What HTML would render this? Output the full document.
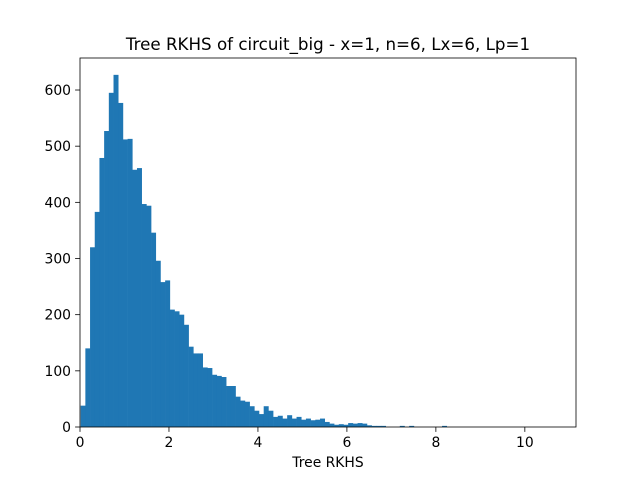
<!DOCTYPE html>
<html><head><meta charset="utf-8"><style>
body{margin:0;background:#fff;font-family:"Liberation Sans","DejaVu Sans",sans-serif}
svg text{font-family:"DejaVu Sans","Liberation Sans",sans-serif}
</style></head><body>
<svg id="c" width="640" height="480"></svg>
<script>
const counts=[38,140,320,383,479,527,595,627,577,512,513,458,461,397,394,346,296,258,261,209,206,200,182,143,131,131,106,105,93,91,89,73,73,54,47,45,37,29,23,37,29,18,20,15,21,15,18,13,15,12,13,15,9,6,4,5,4,7,6,7,6,3,2,2,2,0,0,0,2,0,2,0,0,0,0,0,0,2,0,0,0,0,0,0,0,0,0,0,0,0,0,0,0,0,0,0,0,0,0,0];
const binStart=0.015, binWidth=0.1055;
const xTicks=[0,2,4,6,8,10];
const yTicks=[0,100,200,300,400,500,600];
const L=80,R=576,T=58,B=427,xMax=11.15,yMax=657;
const sx=v=>L+v/xMax*(R-L), sy=v=>B-v/yMax*(B-T);
const svg=document.getElementById('c'),NS='http://www.w3.org/2000/svg';
function mk(t,a,p){const e=document.createElementNS(NS,t);for(const k in a)e.setAttribute(k,a[k]);(p||svg).appendChild(e);return e;}
const bars=mk('g',{});


counts.forEach((c,i)=>{if(!c)return;const x0=sx(binStart+i*binWidth),x1=sx(binStart+(i+1)*binWidth);
const r=mk('rect',{x:x0,y:sy(c),width:x1-x0+0.3,height:B-sy(c),fill:'#1f77b4'},bars);

});
const fr=mk('rect',{x:L,y:T,width:R-L,height:B-T,fill:'none',stroke:'#000','stroke-width':0.8});


xTicks.forEach(v=>{const x=sx(v);mk('line',{x1:x,x2:x,y1:B,y2:B+4.9,stroke:'#000','stroke-width':0.8});
const t=mk('text',{x:x,y:B+20,'text-anchor':'middle','font-size':13.9});t.textContent=v;

});
yTicks.forEach(v=>{const y=sy(v);mk('line',{x1:L-4.9,x2:L,y1:y,y2:y,stroke:'#000','stroke-width':0.8});
const t=mk('text',{x:L-9,y:y+5,'text-anchor':'end','font-size':13.9});t.textContent=v;

});
const xl=mk('text',{x:(L+R)/2,y:467,'text-anchor':'middle','font-size':13.9});xl.textContent='Tree RKHS';


const ti=mk('text',{x:(L+R)/2,y:50,'text-anchor':'middle','font-size':16.7});ti.textContent='Tree RKHS of circuit_big - x=1, n=6, Lx=6, Lp=1';


</script>
</body></html>
